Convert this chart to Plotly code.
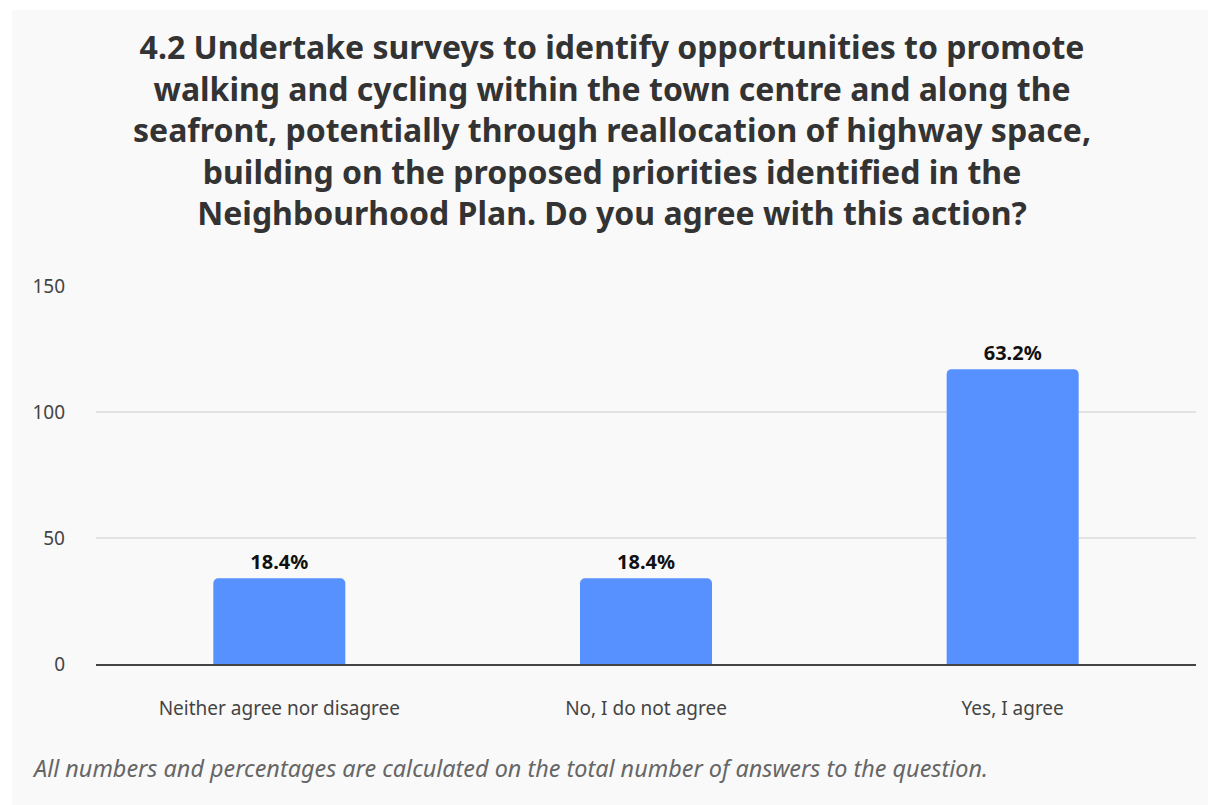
import plotly.graph_objects as go

categories = ["Neither agree nor disagree", "No, I do not agree", "Yes, I agree"]
counts = [34, 34, 117]
pct_labels = ["18.4%", "18.4%", "63.2%"]
y_ticks = [0, 50, 100, 150]

title_lines = [
    "4.2 Undertake surveys to identify opportunities to promote",
    "walking and cycling within the town centre and along the",
    "seafront, potentially through reallocation of highway space,",
    "building on the proposed priorities identified in the",
    "Neighbourhood Plan. Do you agree with this action?",
]
footnote = "All numbers and percentages are calculated on the total number of answers to the question."

FONT = "Noto Sans"
BG = "#f9f9f9"
PLOT_TOP, PLOT_BOTTOM, PLOT_LEFT, PLOT_W = 286, 664, 96, 1100
PLOT_H = PLOT_BOTTOM - PLOT_TOP


def px_to_paper_y(py):
    return (PLOT_BOTTOM - py) / PLOT_H


def px_to_paper_x(px):
    return (px - PLOT_LEFT) / PLOT_W


fig = go.Figure(
    go.Bar(
        x=categories,
        y=counts,
        text=pct_labels,
        textposition="outside",
        cliponaxis=False,
        textfont=dict(family=FONT, size=20, color="#111111", weight="bold"),
        marker=dict(color="#5790ff", cornerradius=5, line=dict(width=0)),
        hoverinfo="skip",
    )
)

annotations = [
    dict(
        text="<br>".join(title_lines), xref="paper", yref="paper",
        x=px_to_paper_x(612), y=px_to_paper_y(129),
        xanchor="center", yanchor="middle", align="center", showarrow=False,
        font=dict(family=FONT, size=32, color="#333333", weight="bold"),
    ),
    dict(
        text="<i>" + footnote + "</i>", xref="paper", yref="paper",
        x=px_to_paper_x(30), y=px_to_paper_y(768), xanchor="left", yanchor="middle",
        showarrow=False,
        font=dict(family=FONT, size=23.4, color="#666666"),
    ),
]

fig.update_layout(
    width=1208,
    height=805,
    paper_bgcolor="white",
    plot_bgcolor=BG,
    margin=dict(l=PLOT_LEFT, r=12, t=PLOT_TOP, b=805 - PLOT_BOTTOM),
    bargap=0.64,
    showlegend=False,
    font=dict(family=FONT, color="#444444"),
    shapes=[
        dict(type="rect", xref="paper", yref="paper", layer="below",
             x0=px_to_paper_x(12), x1=px_to_paper_x(1208),
             y0=px_to_paper_y(805), y1=px_to_paper_y(10),
             fillcolor=BG, line=dict(width=0)),
    ],
    annotations=annotations,
)

fig.update_xaxes(
    showgrid=False,
    showline=True,
    linecolor="#444444",
    linewidth=2,
    ticks="",
    tickfont=dict(family=FONT, size=19, color="#444444"),
    ticklabelstandoff=26,
    fixedrange=True,
)
fig.update_yaxes(
    range=[0, 150],
    tickvals=y_ticks,
    showgrid=True,
    gridcolor="#e3e3e3",
    gridwidth=1.5,
    zeroline=False,
    showline=False,
    ticks="",
    tickfont=dict(family=FONT, size=19, color="#444444"),
    ticklabelstandoff=30,
    fixedrange=True,
)

fig.write_html("out.html")
